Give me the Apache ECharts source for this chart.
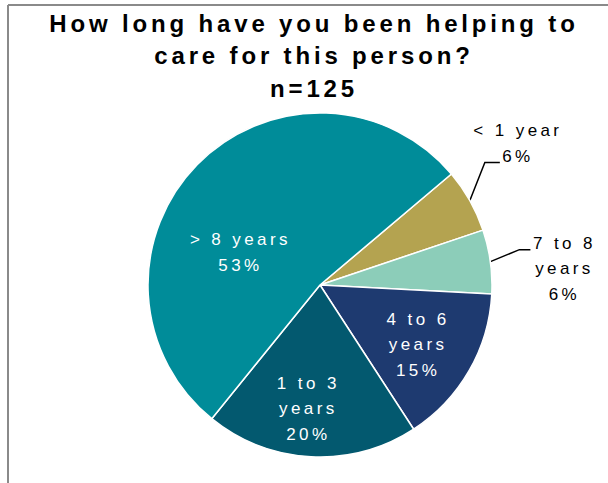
<!DOCTYPE html>
<html lang="en">
<head>
    <meta charset="UTF-8">
    <title>How long have you been helping to care for this person?</title>
    <script src="https://cdn.jsdelivr.net/npm/echarts@6/dist/echarts.min.js"></script>
    <style>
        html, body { margin: 0; padding: 0; background: #fff; }
        #main { width: 608px; height: 483px; }
        /* the source chart has wide letter spacing */
        #main text { letter-spacing: 0.2em; }
        #main text[style*="bold"] { letter-spacing: 0.16em; }
    </style>
</head>
<body>
    <div id="main"></div>

    <script>
    // data (percent of n=125)
    var categories = ['< 1 year', '7 to 8 years', '4 to 6 years', '1 to 3 years', '> 8 years'];
    var percents = [6, 6, 15, 20, 53];
    var sliceColors = ['#B4A350', '#8CCDB9', '#1E3A70', '#03596F', '#008C99'];
    var outsideLabel = [true, true, false, false, false];

    var cx = 320, cy = 285;

    // label tweaks (px): inside labels get a nudge, outside labels a bent leader line
    var insideNudge = [null, null, [21, 15], [-7, 35], [-16, 30]];
    var leader = [
        { bend: [15, -38], len2: 15, text: [18, -19] },
        { bend: [29, -12], len2: 11, text: [34, 19] },
        null, null, null
    ];

    var data = categories.map(function (name, i) {
        return {
            name: name,
            value: percents[i],
            itemStyle: { color: sliceColors[i] },
            label: outsideLabel[i] ? { position: 'outside', color: '#000' } : { position: 'inside', color: '#fff' },
            labelLine: { show: outsideLabel[i] }
        };
    });

    var myChart = echarts.init(document.getElementById('main'), null, { renderer: 'svg' });
    var option = {
        backgroundColor: '#fff',
        animation: false,
        title: {
            text: 'How long have you been helping to\ncare for this person?',
            subtext: 'n=125',
            left: 309,
            top: 2,
            textAlign: 'center',
            itemGap: 1,
            textStyle: {
                fontFamily: 'Liberation Sans',
                fontSize: 24,
                fontWeight: 'bold',
                lineHeight: 32,
                color: '#000'
            },
            subtextStyle: {
                fontFamily: 'Liberation Sans',
                fontSize: 24,
                fontWeight: 'bold',
                lineHeight: 32,
                color: '#000'
            }
        },
        graphic: [
            { type: 'line', shape: { x1: 8, y1: 5, x2: 608, y2: 5 }, style: { stroke: '#8a8a8a', lineWidth: 2 } },
            { type: 'line', shape: { x1: 8, y1: 5, x2: 8, y2: 483 }, style: { stroke: '#8a8a8a', lineWidth: 2 } }
        ],
        series: [{
            type: 'pie',
            center: [cx, cy],
            radius: 172,
            startAngle: 40.2,
            clockwise: true,
            avoidLabelOverlap: false,
            itemStyle: { borderColor: '#fff', borderWidth: 1.5 },
            label: {
                fontFamily: 'Liberation Sans',
                fontSize: 17,
                lineHeight: 25.5,
                formatter: function (p) {
                    var name = p.name.indexOf(' to ') > 0 ? p.name.replace(' years', '\nyears') : p.name;
                    return name + '\n' + p.value + '%';
                }
            },
            labelLine: {
                length: 15,
                length2: 15,
                lineStyle: { color: '#000', width: 1.5 }
            },
            labelLayout: function (params) {
                var i = params.dataIndex;
                if (leader[i] && params.labelLinePoints) {
                    var p0 = params.labelLinePoints[0];
                    var l = leader[i];
                    var bend = [p0[0] + l.bend[0], p0[1] + l.bend[1]];
                    var end = [bend[0] + l.len2, bend[1]];
                    return {
                        x: end[0] + l.text[0],
                        y: end[1] + l.text[1],
                        align: 'center',
                        verticalAlign: 'middle',
                        labelLinePoints: [p0, bend, end]
                    };
                }
                if (insideNudge[i]) {
                    return { dx: insideNudge[i][0], dy: insideNudge[i][1] };
                }
                return {};
            },
            data: data
        }]
    };
    myChart.setOption(option);
    </script>
</body>
</html>
